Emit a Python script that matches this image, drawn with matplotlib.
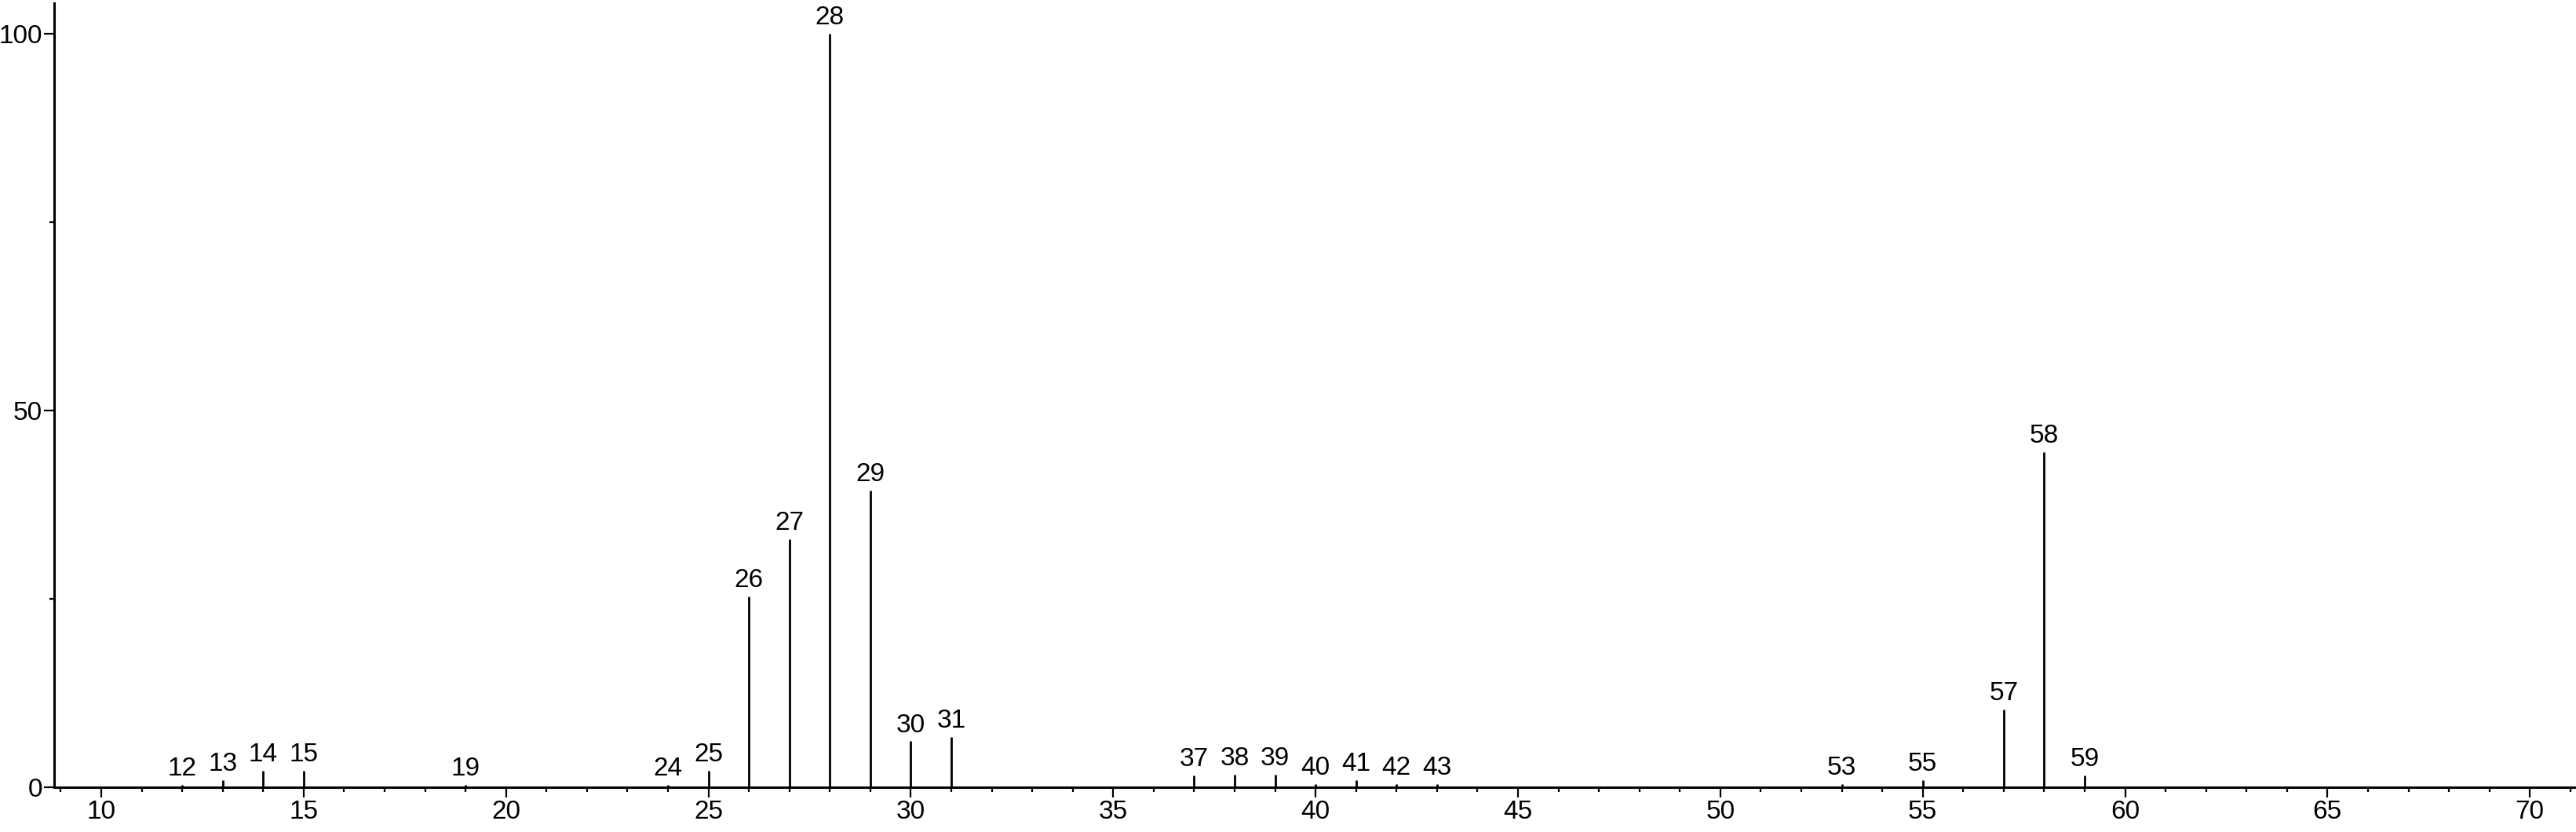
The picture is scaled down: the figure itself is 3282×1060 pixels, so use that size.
import matplotlib
matplotlib.use("Agg")
import matplotlib.pyplot as plt
from matplotlib.ticker import MultipleLocator

# Mass spectrum peaks (m/z, relative intensity %)
mz = [12, 13, 14, 15, 19, 24, 25, 26, 27, 28, 29, 30, 31,
      37, 38, 39, 40, 41, 42, 43, 53, 55, 57, 58, 59]
intensity = [0.3, 0.9, 2.2, 2.2, 0.3, 0.3, 2.2, 25.3, 32.9, 100.0, 39.4, 6.1, 6.7,
             1.6, 1.7, 1.7, 0.4, 0.9, 0.4, 0.4, 0.4, 0.9, 10.3, 44.5, 1.6]

x_major = 5
y_ticks = [0, 50, 100]
y_minor = [25, 75]

plt.rcParams["font.family"] = ["Liberation Sans", "DejaVu Sans"]
plt.rcParams["font.size"] = 24

fig = plt.figure(figsize=(32.82, 10.60), dpi=100)
ax = fig.add_axes([69 / 3282, 57 / 1060, 1 - 69 / 3282, 999 / 1060])

# Sticks
ax.vlines(mz, 0, intensity, colors="black", linewidth=2.0)

# Peak labels
for m, h in zip(mz, intensity):
    ax.annotate(str(m), (m, h), xytext=(0, 3.5), textcoords="offset points",
                ha="center", va="bottom", fontsize=24)

ax.set_xlim(8.836, 71.14)
ax.set_ylim(0, 104.06)

ax.xaxis.set_major_locator(MultipleLocator(x_major))
ax.xaxis.set_minor_locator(MultipleLocator(1))
ax.set_yticks(y_ticks)
ax.set_yticks(y_minor, minor=True)

for side in ("top", "right"):
    ax.spines[side].set_visible(False)
for side in ("left", "bottom"):
    ax.spines[side].set_linewidth(2.2)

ax.tick_params(axis="both", which="major", direction="out", length=9.4,
               width=1.6, labelsize=24)
ax.tick_params(axis="both", which="minor", direction="out", length=4.3,
               width=1.6)
ax.tick_params(axis="x", which="major", pad=2)
ax.tick_params(axis="y", which="major", pad=1.5)

fig.savefig("out.png", dpi=100)
